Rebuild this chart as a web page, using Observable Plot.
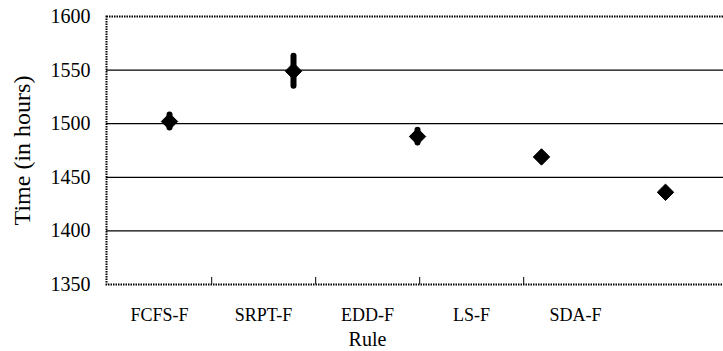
<!DOCTYPE html>
<html><head><meta charset="utf-8">
<script src="https://cdn.jsdelivr.net/npm/d3@7"></script>
<script src="https://cdn.jsdelivr.net/npm/@observablehq/plot@0.6"></script>
<style>
html,body{margin:0;padding:0;background:#fff;overflow:hidden;}
#wrap{position:relative;width:723px;height:351px;overflow:hidden;}
#wrap svg{position:absolute;left:0;top:0;overflow:hidden;font-family:'Liberation Serif','Times New Roman',Tinos,'DejaVu Serif',serif !important;}
#wrap svg text, #wrap svg g{font-family:'Liberation Serif','Times New Roman',Tinos,'DejaVu Serif',serif !important;}
</style></head><body><div id="wrap"></div>
<script>
// Data
const rules = ["FCFS-F","SRPT-F","EDD-F","LS-F","SDA-F"];
const meanTime = [1502,1549,1488,1469,1436];
const lowTime  = [1496,1535,1482,1467,1434];
const highTime = [1508,1563,1494,1471,1438];
const yTicks = [1350,1400,1450,1500,1550,1600];
const gridValues = [1400,1450,1500,1550];
const yLabel = "Time (in hours)";
const xLabel = "Rule";

const data = rules.map((r,i)=>({rule:r, mean:meanTime[i], low:lowTime[i], high:highTime[i]}));

const W=723, H=351, mt=16, mb=67;
const font = "'Liberation Serif','Times New Roman',Tinos,'DejaVu Serif',serif";
const labelRange = [106, 628];
const bw = (labelRange[1]-labelRange[0])/rules.length;

const base = Plot.plot({
  width:W, height:H, marginTop:mt, marginBottom:mb, marginLeft:106, marginRight:-8,
  style:"background:transparent;overflow:hidden;color:black;",
  x:{domain:rules, type:"band", range:labelRange, padding:0, label:null},
  y:{domain:[1350,1600], label:null},
  marks:[
    Plot.ruleY(gridValues,{stroke:"black", strokeWidth:1.3}),
    Plot.frame({stroke:"black", strokeWidth:2, strokeDasharray:"1.5,1"}),
    Plot.ruleX(rules.slice(0,4),{x:d=>d, dx:bw/2, insetTop:261, stroke:"black", strokeWidth:1}),
    Plot.axisY(yTicks,{tickSize:0, tickPadding:16, fontSize:20, fontFamily:font, fill:"black", label:null, tickFormat:d=>String(d)}),
    Plot.axisX({tickSize:0, tickPadding:24, fontSize:18, fontFamily:font, fill:"black", label:null}),
    Plot.text([yLabel],{frameAnchor:"left", textAnchor:"middle", rotate:-90, dx:-84, fontSize:24, fontFamily:font, fill:"black"}),
    Plot.text([xLabel],{x:()=>rules[2], frameAnchor:"bottom", lineAnchor:"middle", dy:55, fontSize:20, fontFamily:font, fill:"black"})
  ]
});

const overlay = Plot.plot({
  width:W, height:H, marginTop:mt, marginBottom:mb, marginLeft:105, marginRight:0,
  style:"background:transparent;overflow:hidden;",
  x:{domain:rules, type:"band", range:[105,729], padding:0, axis:null},
  y:{domain:[1350,1600], axis:null},
  marks:[
    Plot.ruleX(data,{x:"rule", y1:"low", y2:"high", stroke:"black", strokeWidth:6, strokeLinecap:"round"}),
    Plot.dot(data,{x:"rule", y:"mean", symbol:"diamond2", r:7.4, fill:"black", stroke:"black", strokeWidth:1, strokeLinejoin:"round"})
  ]
});

const wrap = document.getElementById("wrap");
wrap.appendChild(base);
wrap.appendChild(overlay);
</script>
</body></html>
